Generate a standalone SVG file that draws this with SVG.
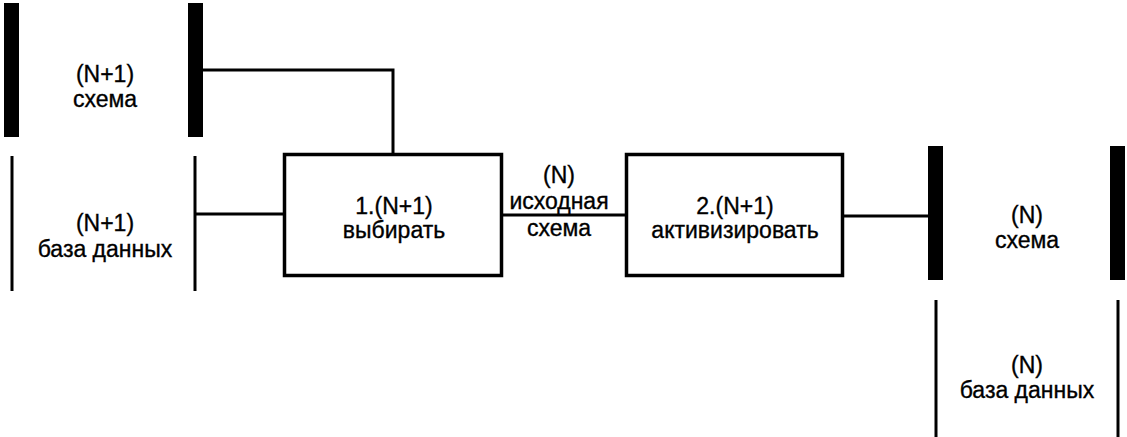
<svg xmlns="http://www.w3.org/2000/svg" width="1127" height="437" viewBox="0 0 1127 437">
<style>
.bar{fill:#000}
.thin{stroke:#000;stroke-width:3;fill:none}
.box{fill:#fff;stroke:#000;stroke-width:3.5}
.conn{stroke:#000;stroke-width:3;fill:none}
text{font-family:"Liberation Sans",Arial,sans-serif;font-size:23px;fill:#000;stroke:#000;stroke-width:0.35;text-anchor:middle}
</style>
<rect width="1127" height="437" fill="#fff"/>
<g id="connectors">
<polyline class="conn" points="203,70 393,70 393,154"/>
<line class="conn" x1="195" y1="214" x2="284" y2="214"/>
<line class="conn" x1="503" y1="215" x2="625" y2="215"/>
<line class="conn" x1="844" y1="216" x2="928" y2="216"/>
</g>
<g id="store-schema-n1">
<rect class="bar" x="4" y="3" width="15" height="134"/>
<rect class="bar" x="188" y="3" width="15" height="134"/>
<text x="105" y="82">(N+1)</text>
<text x="105" y="107">схема</text>
</g>
<g id="store-db-n1">
<line class="thin" x1="12" y1="156" x2="12" y2="291"/>
<line class="thin" x1="195" y1="156" x2="195" y2="291"/>
<text x="105" y="231">(N+1)</text>
<text x="105" y="257">база данных</text>
</g>
<g id="process-1">
<rect class="box" x="284.5" y="154.5" width="217" height="121"/>
<text x="394" y="214">1.(N+1)</text>
<text x="394" y="238">выбирать</text>
</g>
<g id="label-source-schema">
<text x="559" y="183">(N)</text>
<text x="559" y="209">исходная</text>
<text x="559" y="236">схема</text>
</g>
<g id="process-2">
<rect class="box" x="626.5" y="154.5" width="216" height="121"/>
<text x="735" y="214">2.(N+1)</text>
<text x="735" y="238">активизировать</text>
</g>
<g id="store-schema-n">
<rect class="bar" x="928" y="146" width="15" height="134"/>
<rect class="bar" x="1110" y="146" width="15" height="134"/>
<text x="1027" y="223">(N)</text>
<text x="1027" y="248">схема</text>
</g>
<g id="store-db-n">
<line class="thin" x1="936" y1="300" x2="936" y2="437"/>
<line class="thin" x1="1118" y1="300" x2="1118" y2="437"/>
<text x="1027" y="373">(N)</text>
<text x="1027" y="398">база данных</text>
</g>
</svg>
